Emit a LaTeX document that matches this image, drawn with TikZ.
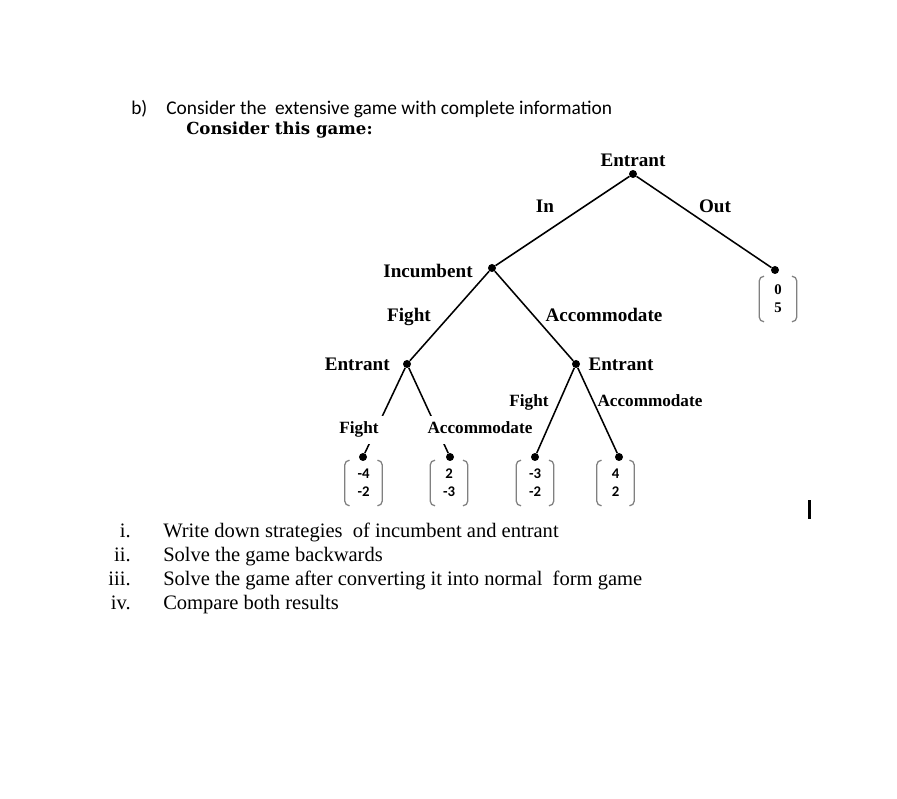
\documentclass[tikz,border=0pt]{standalone}
\usepackage{fontspec}
\setmainfont{Liberation Serif}
\newfontfamily\calibrifont{Carlito}
\newfontfamily\widefont{DejaVu Serif}
\usepackage{tikz}
\usetikzlibrary{positioning}
\tikzset{
  decision/.style={circle,fill=black,inner sep=0pt,minimum size=0.2cm},
  branch/.style={line width=1.1pt},
  playerlabel/.style={font=\fontsize{13.6}{16}\selectfont\bfseries,inner sep=0pt},
  actionlabel/.style={font=\fontsize{13.6}{16}\selectfont\bfseries,inner sep=0pt,anchor=base},
  smallaction/.style={font=\fontsize{12.2}{14}\selectfont\bfseries,inner sep=0pt,anchor=base},
  cutlabel/.style={smallaction,fill=white,text depth=3pt,inner xsep=0.125cm,inner ysep=0.15cm},
  payoff/.style={align=center,inner sep=0pt,minimum width=0.925cm,minimum height=1.125cm,
    font=\calibrifont\fontsize{10.5}{12.8}\selectfont\bfseries},
  bracketline/.style={draw=black!50,line width=0.9pt,rounded corners=0.12cm},
  question/.style={font=\fontsize{14.6}{17}\selectfont,inner sep=0pt}
}

\begin{document}
\begin{tikzpicture}[x=0.025cm,y=-0.025cm]
  \useasboundingbox (0,0) rectangle (897,799);
  % heading
  \node[anchor=base west,inner sep=0pt,font=\calibrifont\fontsize{13.8}{16}\selectfont] (part) at (131,115) {b)};
  \node[anchor=base west,inner sep=0pt,font=\calibrifont\fontsize{13.8}{16}\selectfont] (intro) at (166,115) {Consider the\ \ extensive game with complete information};
  \node[anchor=base west,inner sep=0pt,font=\widefont\fontsize{11.8}{14}\selectfont\bfseries] (title) at (186,135) {Consider this game:};
  % decision nodes
  \node[decision] (root) at (633,174) {};
  \node[decision] (inc) at (492,268) {};
  \node[decision] (leftent) at (407,364) {};
  \node[decision] (rightent) at (576,364) {};
  \node[decision] (leafout) at (775,270) {};
  \node[decision] (leafa) at (363,457) {};
  \node[decision] (leafb) at (450,457) {};
  \node[decision] (leafc) at (535,457) {};
  \node[decision] (leafd) at (619,457) {};
  % players
  \node[playerlabel,above=0.07cm of root] (rootname) {Entrant};
  \node[playerlabel,left=0.37cm of inc,yshift=-0.07cm] (incname) {Incumbent};
  \node[playerlabel,left=0.32cm of leftent] (leftname) {Entrant};
  \node[playerlabel,right=0.2cm of rightent] (rightname) {Entrant};
  % branches
  \draw[branch] (root) -- (inc);
  \draw[branch] (root) -- (leafout);
  \draw[branch] (inc) -- (leftent);
  \draw[branch] (inc) -- (rightent);
  \draw[branch] (leftent) -- (leafa);
  \draw[branch] (leftent) -- (leafb);
  \draw[branch] (rightent) -- (leafc);
  \draw[branch] (rightent) -- (leafd);
  % actions
  \node[actionlabel] (actin) at (545,213) {In};
  \node[actionlabel] (actout) at (715,213) {Out};
  \node[actionlabel] (actfight) at (409,322) {Fight};
  \node[actionlabel] (actacc) at (604,322) {Accommodate};
  \node[smallaction] (rfight) at (529,407) {Fight};
  \node[smallaction] (racc) at (650,407) {Accommodate};
  \node[cutlabel] (lfight) at (359,434) {Fight};
  \node[cutlabel] (lacc) at (480,434) {Accommodate};
  % payoffs
  \node[payoff,font=\fontsize{10.5}{12.8}\selectfont\bfseries] (payout) at (778,299) {0\\5};
  \node[payoff] (paya) at (363.5,483) {-4\\-2};
  \node[payoff] (payb) at (449,483) {2\\-3};
  \node[payoff] (payc) at (535,483) {-3\\-2};
  \node[payoff] (payd) at (615.5,483) {4\\2};
  \foreach \p in {payout,paya,payb,payc,payd} {
    \draw[bracketline] ([xshift=0.12cm]\p.north west) -- (\p.north west) -- (\p.south west) -- ([xshift=0.12cm]\p.south west);
    \draw[bracketline] ([xshift=-0.12cm]\p.north east) -- (\p.north east) -- (\p.south east) -- ([xshift=-0.12cm]\p.south east);
  }
  % text cursor
  \fill (808,500) rectangle (810.5,519);
  % questions
  \foreach \num/\txt [count=\k from 0] in {i./Write down strategies\ \ of incumbent and entrant,
      ii./Solve the game backwards,
      iii./Solve the game after converting it into normal\ \ form game,
      iv./Compare both results} {
    \node[question,anchor=base east] (num\k) at (131,{538+23.8*\k}) {\num};
    \node[question,anchor=base west] (item\k) at (163,{538+23.8*\k}) {\txt};
  }
\end{tikzpicture}
\end{document}
